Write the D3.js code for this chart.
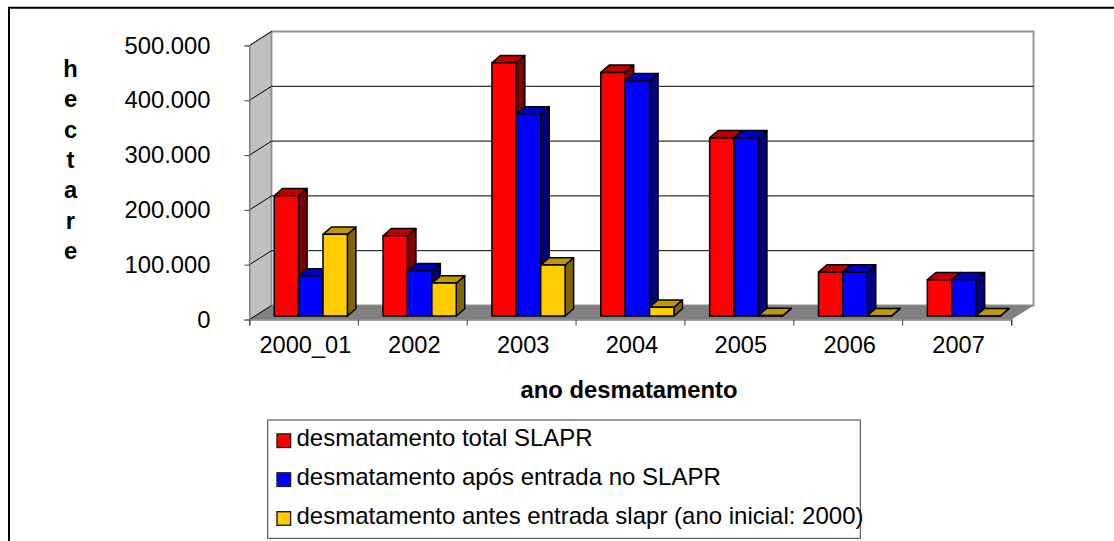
<!DOCTYPE html>
<html><head><meta charset="utf-8">
<script src="https://cdn.jsdelivr.net/npm/d3@7/dist/d3.min.js"></script>
<style>html,body{margin:0;padding:0;background:#fff}svg{display:block}text{font-family:"Liberation Sans",Arial,sans-serif;fill:#000}</style>
</head><body><svg id="c" width="1114" height="541"></svg>
<script>
const categories = ["2000_01","2002","2003","2004","2005","2006","2007"];
const seriesNames = ["desmatamento total SLAPR","desmatamento após entrada no SLAPR","desmatamento antes entrada slapr (ano inicial: 2000)"];
const totalSlapr = [219500,146500,462000,444500,325000,80000,66000];
const aposEntrada = [73000,82500,368500,429000,325000,80000,66000];
const antesEntrada = [149000,60000,93000,16000,1000,500,500];
const yTicks = [0,100000,200000,300000,400000,500000];
const yTitle = ["h","e","c","t","a","r","e"];
const xTitle = "ano desmatamento";
const front = ["#ff0000","#0000ff","#ffcc00"];
const top_ = ["#c00000","#0000c0","#c09900"];
const side = ["#800000","#000080","#806600"];
const values = [totalSlapr,aposEntrada,antesEntrada];

const svg = d3.select("#c");
const L=249.5,R=1011.5,Y0=319.5,Y5=45.5,DX=22,DY=-14;
const x = d3.scaleBand().domain(categories).range([L,R]);
const y = d3.scaleLinear().domain([0,500000]).range([Y0,Y5]);
const fmt = v => d3.format(",")(v).replace(/,/g,".");
const poly = p => p.map(a=>a.join(",")).join(" ");

// outer frame
svg.append("path").attr("d","M9,541V7.7H1114").attr("fill","none").attr("stroke","#000").attr("stroke-width",2);

// walls
svg.append("polygon").attr("points",poly([[L,Y0],[L+DX,Y0+DY],[L+DX,Y5+DY],[L,Y5]])).attr("fill","#c0c0c0").attr("stroke","#808080");
svg.append("polygon").attr("points",poly([[L+DX,Y0+DY],[R+DX,Y0+DY],[R+DX,Y5+DY],[L+DX,Y5+DY]])).attr("fill","#fff").attr("stroke","#909090").attr("stroke-width",1.8);
svg.append("polygon").attr("points",poly([[L,Y0],[L+DX,Y0+DY],[R+DX,Y0+DY],[R,Y0]])).attr("fill","#808080");

// gridlines
const grid = yTicks.slice(1,5);
svg.append("g").selectAll("path").data(grid).join("path")
  .attr("d",d=>`M${L},${y(d)}L${L+DX},${y(d)+DY}H${R+DX}`).attr("fill","none").attr("stroke","#000").attr("stroke-width",1);
svg.append("path").attr("d",`M${L},${Y0}L${L+DX},${Y0+DY}`).attr("stroke","#000").attr("fill","none");
svg.append("path").attr("d",`M${L},${Y5}L${L+DX},${Y5+DY}`).attr("stroke","#000").attr("fill","none");

// bars
const barStart=24.7, barW=24.4, dBx=8.5, dBy=-7.3;
const barsG = svg.append("g");
categories.forEach((c,i)=>{
  [0,1,2].forEach(s=>{
    const v=values[s][i], x0=x(c)+barStart+s*barW, x1=x0+barW, yt=y(v)-(Y0-316), yb=316;
    const g=barsG.append("g").attr("stroke","#000").attr("stroke-width",1.5).attr("stroke-linejoin","round");
    g.append("polygon").attr("fill",side[s]).attr("points",poly([[x1,yb],[x1+dBx,yb+dBy],[x1+dBx,yt+dBy],[x1,yt]]));
    g.append("polygon").attr("fill",top_[s]).attr("points",poly([[x0,yt],[x0+dBx,yt+dBy],[x1+dBx,yt+dBy],[x1,yt]]));
    g.append("rect").attr("fill",front[s]).attr("x",x0).attr("y",yt).attr("width",barW).attr("height",Math.max(0,yb-yt));
  });
});

// axes
const ax = svg.append("g").attr("transform",`translate(${L},0)`)
  .call(d3.axisLeft(y).tickValues(yTicks).tickFormat(fmt).tickSize(5).tickPadding(34));
ax.select(".domain").attr("stroke","#808080");
ax.selectAll("line").attr("stroke","#404040");
ax.selectAll("text").attr("font-size",23.8).attr("font-family","Liberation Sans").attr("fill","#000");

const bx = svg.append("g").attr("transform",`translate(0,${Y0})`)
  .call(d3.axisBottom(x).tickFormat("").tickSize(6).tickSizeOuter(6));
bx.select(".domain").attr("stroke","#808080").attr("stroke-width",1.5);
bx.selectAll("line").attr("stroke","#404040").attr("x1",-x.bandwidth()/2).attr("x2",-x.bandwidth()/2);
bx.append("line").attr("x1",R).attr("x2",R).attr("y1",0).attr("y2",6).attr("stroke","#404040");
svg.append("g").selectAll("text").data(categories).join("text")
  .attr("x",d=>x(d)+x.bandwidth()/2+1.5).attr("y",352.5).attr("text-anchor","middle").attr("font-size",23.6).text(d=>d);

// titles
svg.append("g").selectAll("text").data(yTitle).join("text")
  .attr("x",70.5).attr("y",(d,i)=>77+i*30.3).attr("text-anchor","middle").attr("font-size",23.8).attr("font-weight","bold").text(d=>d);
svg.append("text").attr("x",629).attr("y",398).attr("text-anchor","middle").attr("font-size",23.8).attr("font-weight","bold").text(xTitle);

// legend
svg.append("rect").attr("x",267.7).attr("y",420).attr("width",592.6).attr("height",118.3).attr("fill","#fff").attr("stroke","#404040");
const lg=svg.append("g").selectAll("g").data(seriesNames).join("g").attr("transform",(d,i)=>`translate(0,${440.7+i*38.9})`);
lg.append("rect").attr("x",277).attr("y",-6.8).attr("width",13.6).attr("height",13.6).attr("fill",(d,i)=>front[i]).attr("stroke","#202020").attr("stroke-width",1.4);
lg.append("text").attr("x",296.5).attr("y",5.5).attr("font-size",24).text(d=>d);
</script></body></html>
